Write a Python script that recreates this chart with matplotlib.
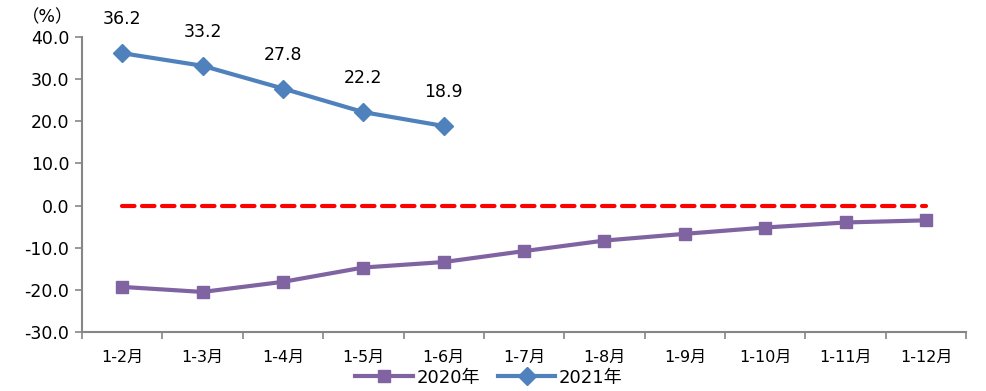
import numpy as np
import matplotlib.pyplot as plt

plt.rcParams['font.family'] = ['DejaVu Sans', 'Noto Sans CJK SC']

categories = ['1-2月', '1-3月', '1-4月', '1-5月', '1-6月', '1-7月',
              '1-8月', '1-9月', '1-10月', '1-11月', '1-12月']
values_2020 = [-19.3, -20.5, -18.1, -14.7, -13.4, -10.8, -8.3, -6.7, -5.2, -4.0, -3.5]
values_2021 = [36.2, 33.2, 27.8, 22.2, 18.9]
baseline = [0.0] * len(categories)

x = np.arange(len(categories))
axis_grey = '#868686'

fig = plt.figure(figsize=(9.87, 3.91), dpi=100)
ax = fig.add_axes([0.083, 0.151, 0.896, 0.754])

ax.plot(x, baseline, color='#FF0000', linestyle=(0, (3, 1.8)), linewidth=3,
        dash_capstyle='round')
ax.plot(x, values_2020, color='#8064A2', linewidth=3, marker='s',
        markersize=9, label='2020年')
ax.plot(x[:len(values_2021)], values_2021, color='#4F81BD', linewidth=3,
        marker='D', markersize=9, label='2021年')

for xi, v in zip(x, values_2021):
    ax.annotate(f'{v:.1f}', (xi, v), xytext=(0, 18), textcoords='offset points',
                ha='center', va='bottom', fontsize=12.5)

ax.set_xlim(-0.5, len(categories) - 0.5)
ax.set_ylim(-30, 40)
ax.set_yticks(np.arange(-30, 41, 10))
ax.set_yticklabels([f'{t:.1f}' for t in np.arange(-30, 41, 10)], fontsize=12.5)

# ticks at category boundaries, labels in the middle
ax.set_xticks(np.arange(-0.5, len(categories)), minor=False)
ax.set_xticklabels([])
ax.set_xticks(x, minor=True)
ax.set_xticklabels(categories, minor=True, fontsize=11.5)
ax.tick_params(axis='x', which='minor', length=0, pad=13)
ax.tick_params(axis='x', which='major', length=5, color=axis_grey, width=1.2)
ax.tick_params(axis='y', length=5, color=axis_grey, width=1.2, pad=4)

for side in ['top', 'right']:
    ax.spines[side].set_visible(False)
for side in ['left', 'bottom']:
    ax.spines[side].set_color(axis_grey)
    ax.spines[side].set_linewidth(1.5)

fig.text(0.022, 0.955, '（%）', fontsize=12.5, va='center')

ax.legend(loc='center', bbox_to_anchor=(0.46, -0.155), ncol=2, frameon=False,
          fontsize=13, handlelength=3.2, columnspacing=1.0, handletextpad=0.2,
          borderaxespad=0, borderpad=0)

fig.savefig('out.png', dpi=100)
